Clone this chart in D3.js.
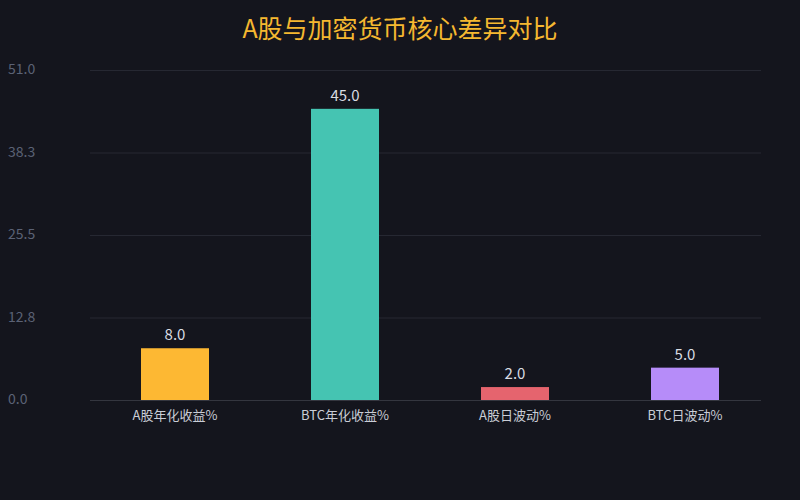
<!DOCTYPE html>
<html><head><meta charset="utf-8">
<script src="https://cdn.jsdelivr.net/npm/d3@7"></script>
<style>
html,body{margin:0;padding:0;background:#14151d;}
svg{display:block;font-family:"Noto Sans CJK SC","Noto Sans",sans-serif;}
</style></head>
<body><svg id="c" width="800" height="500"></svg>
<script>
const title = "A股与加密货币核心差异对比";
const categories = ["A股年化收益%", "BTC年化收益%", "A股日波动%", "BTC日波动%"];
const values = [8.0, 45.0, 2.0, 5.0];
const colors = ["#fdb833", "#45c4b2", "#e5646e", "#b68cf9"];
const yTicks = [0, 12.75, 25.5, 38.25, 51];

const svg = d3.select("#c");
svg.append("rect").attr("width",800).attr("height",500).attr("fill","#14151d");

const x = d3.scaleBand().domain(categories).range([90,770]).padding(0);
const y = d3.scaleLinear().domain([0,51]).range([400,70]);

svg.append("text").attr("x",400).attr("y",38).attr("text-anchor","middle")
  .attr("fill","#f5b830").attr("font-size",25).text(title);

const grid = svg.append("g");
grid.selectAll("line").data(yTicks).join("line")
  .attr("x1",90).attr("x2",761)
  .attr("y1",d=>y(d)+0.5).attr("y2",d=>y(d)+0.5)
  .attr("stroke",d=>d===0?"#34363f":"#262832").attr("stroke-width",1);

grid.selectAll("text").data(yTicks).join("text")
  .attr("x",8).attr("y",d=>y(d)+4)
  .attr("fill","#5b6275").attr("font-size",14)
  .text(d=>d3.format(".1f")(d));

const bw = x.bandwidth()*0.4;
svg.selectAll("rect.bar").data(values).join("rect").attr("class","bar")
  .attr("x",(d,i)=>x(categories[i])+x.bandwidth()/2-bw/2)
  .attr("width",bw)
  .attr("y",d=>y(d)).attr("height",d=>y(0)-y(d))
  .attr("fill",(d,i)=>colors[i]);

svg.selectAll("text.val").data(values).join("text").attr("class","val")
  .attr("x",(d,i)=>x(categories[i])+x.bandwidth()/2)
  .attr("y",d=>y(d)-8)
  .attr("text-anchor","middle").attr("fill","#d9dce3").attr("font-size",15)
  .text(d=>d3.format(".1f")(d));

svg.selectAll("text.cat").data(categories).join("text").attr("class","cat")
  .attr("x",d=>x(d)+x.bandwidth()/2).attr("y",420)
  .attr("text-anchor","middle").attr("fill","#c9cdd6").attr("font-size",13)
  .text(d=>d);
</script></body></html>
